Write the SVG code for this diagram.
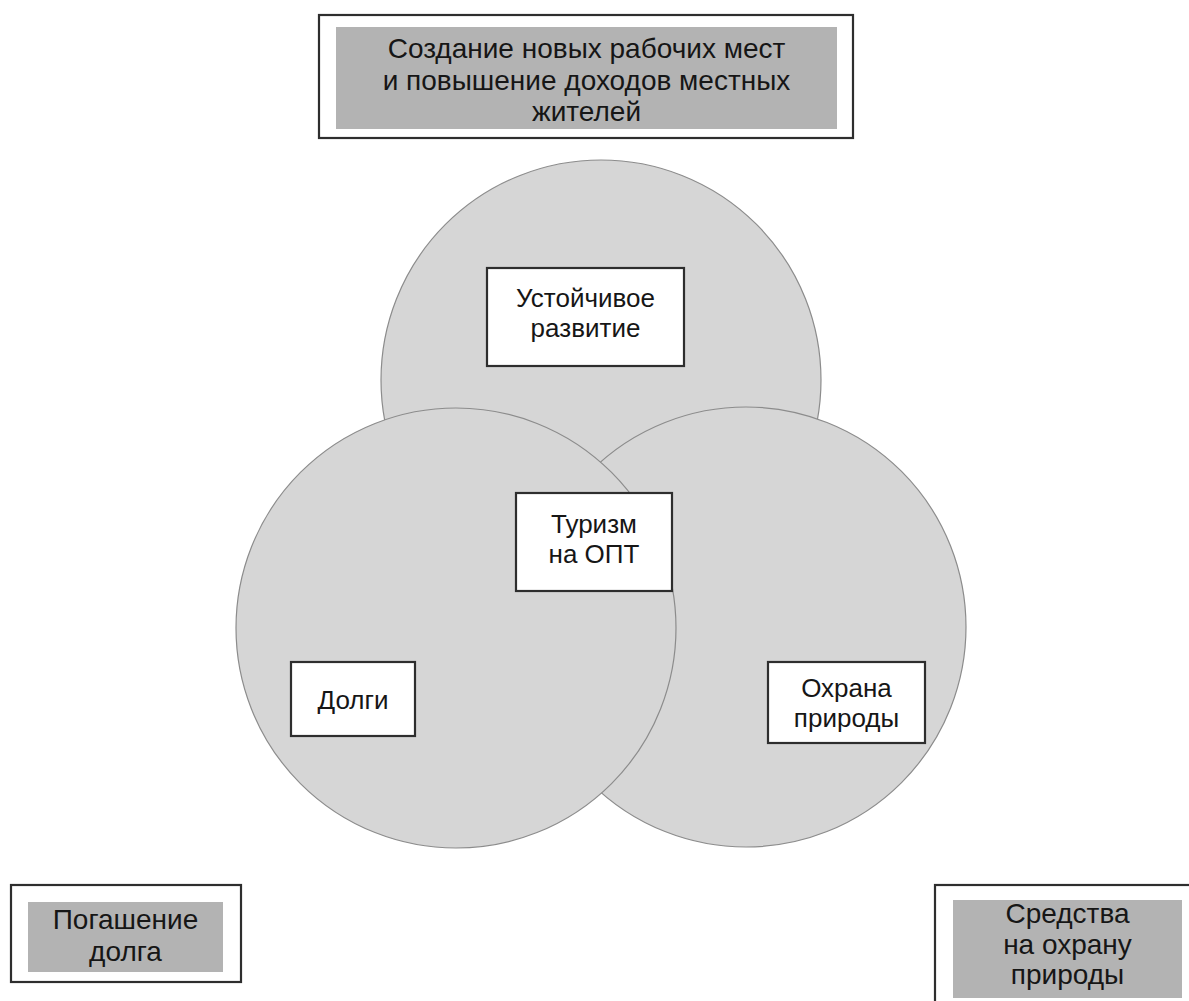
<svg xmlns="http://www.w3.org/2000/svg" width="1189" height="1001" viewBox="0 0 1189 1001">
<style>
  .bg { fill: #ffffff; }
  .circle { fill: #d6d6d6; stroke: #8c8c8c; stroke-width: 1.2; }
  .frame { fill: #ffffff; stroke: #2e2e2e; stroke-width: 2.2; }
  .inner { fill: #b3b3b3; stroke: none; }
  .box { fill: #ffffff; stroke: #2e2e2e; stroke-width: 2.2; }
  text { font-family: "Liberation Sans", Arial, sans-serif; fill: #161616; text-anchor: middle; }
  .big { font-size: 28px; }
  .mid { font-size: 26px; }
</style>
<rect class="bg" x="0" y="0" width="1189" height="1001"/>

<g id="circle-top"><circle class="circle" cx="601" cy="380" r="220"/></g>
<g id="circle-right"><circle class="circle" cx="746" cy="627" r="220"/></g>
<g id="circle-left"><circle class="circle" cx="456" cy="628" r="220"/></g>

<g id="connectors"></g>

<g id="node-jobs">
  <rect class="frame" x="319" y="15" width="534" height="123"/>
  <rect class="inner" x="336" y="27" width="501" height="102"/>
  <text class="big" x="586.5" y="58">Создание новых рабочих мест</text>
  <text class="big" x="586.5" y="90">и повышение доходов местных</text>
  <text class="big" x="586.5" y="121">жителей</text>
</g>

<g id="node-sustainable">
  <rect class="box" x="487" y="268" width="197" height="98"/>
  <text class="mid" x="585.5" y="307">Устойчивое</text>
  <text class="mid" x="585.5" y="337">развитие</text>
</g>

<g id="node-tourism">
  <rect class="box" x="516" y="493" width="156" height="98"/>
  <text class="mid" x="594" y="533">Туризм</text>
  <text class="mid" x="594" y="563">на ОПТ</text>
</g>

<g id="node-debts">
  <rect class="box" x="291" y="662" width="124" height="74"/>
  <text class="mid" x="353" y="709">Долги</text>
</g>

<g id="node-nature">
  <rect class="box" x="768" y="662" width="157" height="81"/>
  <text class="mid" x="846.5" y="697">Охрана</text>
  <text class="mid" x="846.5" y="727">природы</text>
</g>

<g id="node-repayment">
  <rect class="frame" x="11" y="885" width="230" height="97"/>
  <rect class="inner" x="28" y="902" width="195" height="70"/>
  <text class="big" x="125.5" y="929">Погашение</text>
  <text class="big" x="125.5" y="961">долга</text>
</g>

<g id="node-funds">
  <rect class="frame" x="935" y="885" width="270" height="130"/>
  <rect class="inner" x="953" y="900" width="229" height="98"/>
  <text class="big" x="1067.5" y="923">Средства</text>
  <text class="big" x="1067.5" y="954">на охрану</text>
  <text class="big" x="1067.5" y="984">природы</text>
</g>
</svg>
